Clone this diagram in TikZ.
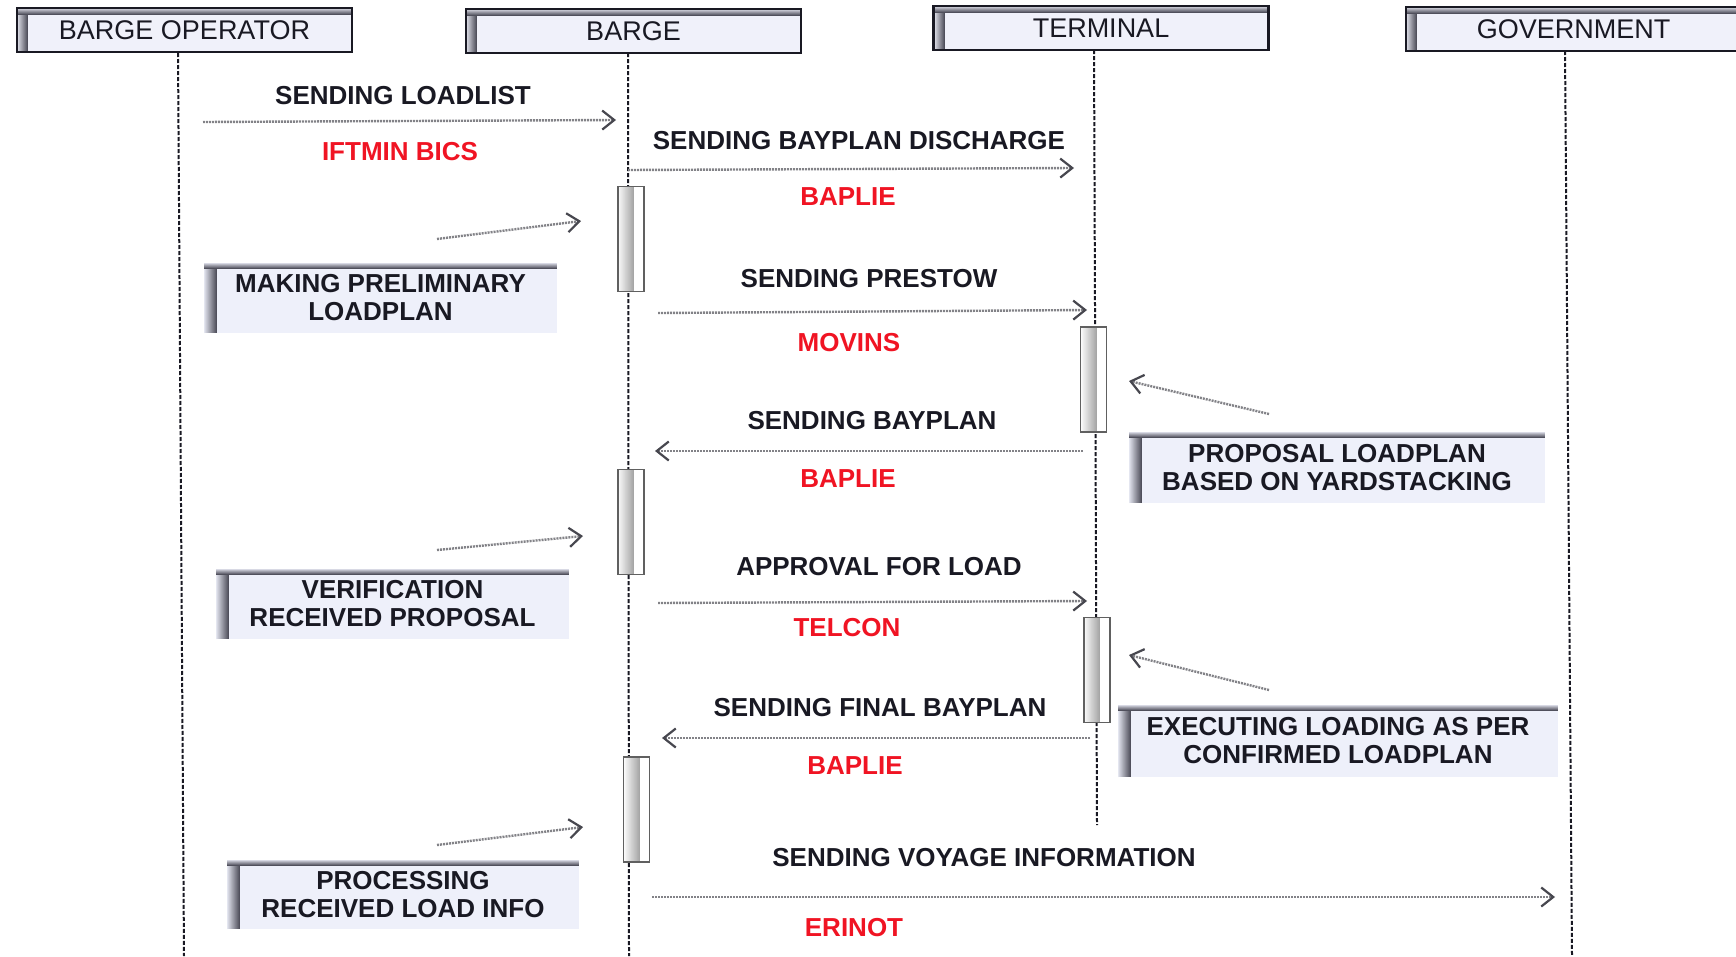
\documentclass[tikz,border=0pt]{standalone}
\usepackage{fontspec}
\setmainfont{Liberation Sans}
\usetikzlibrary{arrows.meta}
\definecolor{boxfill}{RGB}{240,241,250}
\definecolor{notefill}{RGB}{238,240,250}
\definecolor{shadowc}{RGB}{80,80,92}
\definecolor{msgred}{RGB}{240,20,35}
\definecolor{ink}{RGB}{25,25,35}
\definecolor{msgline}{RGB}{130,130,135}
\tikzset{
  leftshade/.style n args={3}{path picture={
      \foreach \i [evaluate=\i as \p using {int(100*(#1-\i)/#1)}] in {0,...,#1} {
        \fill[shadowc!\p!#3] (path picture bounding box.south west) rectangle ([xshift=#1pt-\i*1pt]path picture bounding box.north west);}
      \foreach \i [evaluate=\i as \p using {int(100*(#2-\i)/#2)}] in {0,...,#2} {
        \fill[shadowc!\p!#3] (path picture bounding box.north west) rectangle ([yshift=-#2pt+\i*1pt]path picture bounding box.north east);}
  }},
  header/.style={draw=ink, line width=2.5pt, fill=boxfill, minimum width=335pt, minimum height=44pt,
    inner sep=0pt, font=\fontsize{27}{30}\selectfont, text=ink, leftshade={11}{7}{boxfill}},
  notebox/.style={fill=notefill, minimum width=353pt, minimum height=70pt, inner sep=0pt, align=center,
    font=\fontsize{26}{28}\selectfont\bfseries, text=ink, leftshade={13}{6}{notefill}},
  actbar/.style={draw=gray!75!black, line width=1.2pt, fill=white, minimum width=26pt, minimum height=105pt, inner sep=0pt,
    path picture={
      \foreach \i [evaluate=\i as \p using {int(70*(16-\i)/16)}] in {0,...,16} {
        \fill[gray!\p!white] (path picture bounding box.south west) rectangle ([xshift=16pt-\i*1pt]path picture bounding box.north west);}}},
  lifeline/.style={draw=ink, line width=2pt, dash pattern=on 4pt off 2pt},
  msg/.style={draw=msgline, line width=2.4pt, dash pattern=on 2pt off 1pt,
    -{Straight Barb[length=12pt,width=19pt,line width=2.2pt,color=ink!80]}},
  lbl/.style={font=\fontsize{26}{28}\selectfont\bfseries, text=ink, inner sep=0pt},
  redlbl/.style={font=\fontsize{26}{28}\selectfont\bfseries, text=msgred, inner sep=0pt}
}
\begin{document}
\begin{tikzpicture}[x=1pt,y=-1pt]
\useasboundingbox (0,0) rectangle (1736,956);
\clip (0,0) rectangle (1736,956);
\fill[white] (0,0) rectangle (1736,956);

% lifeline end points
\coordinate (l1t) at (178,53);  \coordinate (l1b) at (184,956);
\coordinate (l2t) at (628,53);  \coordinate (l2b) at (629,956);
\coordinate (l3t) at (1094,50); \coordinate (l3b) at (1097,825);
\coordinate (l4t) at (1565,51); \coordinate (l4b) at (1572,956);
\draw[lifeline] (l1t) -- (l1b);
\draw[lifeline] (l2t) -- (l2b);
\draw[lifeline] (l3t) -- (l3b);
\draw[lifeline] (l4t) -- (l4b);

% headers
\node[header] (hop)  at (184.5,30) {BARGE OPERATOR};
\node[header] (hbar) at (633.5,31) {BARGE};
\node[header] (hter) at (1101,28)  {TERMINAL};
\node[header] (hgov) at (1573.5,29) {GOVERNMENT};

% activation bars
\node[actbar] (a1) at (631,239) {};
\node[actbar] (a2) at (1093.5,379.5) {};
\node[actbar] (a3) at (631,522) {};
\node[actbar] (a4) at (1097,670) {};
\node[actbar] (a5) at (636.5,809.5) {};

% messages
\coordinate (m1s) at (203,122);  \coordinate (m1e) at (616,120);
\coordinate (m2s) at (628,170);  \coordinate (m2e) at (1074,168);
\coordinate (m3s) at (658,313);  \coordinate (m3e) at (1087,310);
\coordinate (m4s) at (1083,451); \coordinate (m4e) at (655,451);
\coordinate (m5s) at (658,603);  \coordinate (m5e) at (1087,601);
\coordinate (m6s) at (1090,738); \coordinate (m6e) at (662,738);
\coordinate (m7s) at (652,897);  \coordinate (m7e) at (1555,897);
\draw[msg] (m1s) -- (m1e);
\draw[msg] (m2s) -- (m2e);
\draw[msg] (m3s) -- (m3e);
\draw[msg] (m4s) -- (m4e);
\draw[msg] (m5s) -- (m5e);
\draw[msg] (m6s) -- (m6e);
\draw[msg] (m7s) -- (m7e);

% message labels
\node[lbl] (t1) at (403,96) {SENDING LOADLIST};
\node[redlbl] (r1) at (400,152) {IFTMIN BICS};
\node[lbl] (t2) at (859,141) {SENDING BAYPLAN DISCHARGE};
\node[redlbl] (r2) at (848,197) {BAPLIE};
\node[lbl] (t3) at (869,279) {SENDING PRESTOW};
\node[redlbl] (r3) at (849,343) {MOVINS};
\node[lbl] (t4) at (872,421) {SENDING BAYPLAN};
\node[redlbl] (r4) at (848,479) {BAPLIE};
\node[lbl] (t5) at (879,567) {APPROVAL FOR LOAD};
\node[redlbl] (r5) at (847,628) {TELCON};
\node[lbl] (t6) at (880,708) {SENDING FINAL BAYPLAN};
\node[redlbl] (r6) at (855,766) {BAPLIE};
\node[lbl] (t7) at (984,858) {SENDING VOYAGE INFORMATION};
\node[redlbl] (r7) at (854,928) {ERINOT};

% notes
\node[notebox] (n1) at (380.5,298) {MAKING PRELIMINARY\\LOADPLAN};
\node[notebox, minimum width=416pt, minimum height=71pt] (n2) at (1337,467.5) {PROPOSAL LOADPLAN\\BASED ON YARDSTACKING};
\node[notebox] (n3) at (392.5,604) {VERIFICATION\\RECEIVED PROPOSAL};
\node[notebox, minimum width=440pt, minimum height=72pt] (n4) at (1338,741) {EXECUTING LOADING AS PER\\CONFIRMED LOADPLAN};
\node[notebox, minimum width=352pt, minimum height=69pt] (n5) at (403,894.5) {PROCESSING\\RECEIVED LOAD INFO};

% note pointers
\coordinate (p1s) at (437,239);  \coordinate (p1e) at (581,221);
\coordinate (p2s) at (1269,414); \coordinate (p2e) at (1129,381);
\coordinate (p3s) at (437,550);  \coordinate (p3e) at (583,536);
\coordinate (p4s) at (1269,690); \coordinate (p4e) at (1129,655);
\coordinate (p5s) at (437,845);  \coordinate (p5e) at (583,827);
\draw[msg] (p1s) -- (p1e);
\draw[msg] (p2s) -- (p2e);
\draw[msg] (p3s) -- (p3e);
\draw[msg] (p4s) -- (p4e);
\draw[msg] (p5s) -- (p5e);
\end{tikzpicture}
\end{document}
